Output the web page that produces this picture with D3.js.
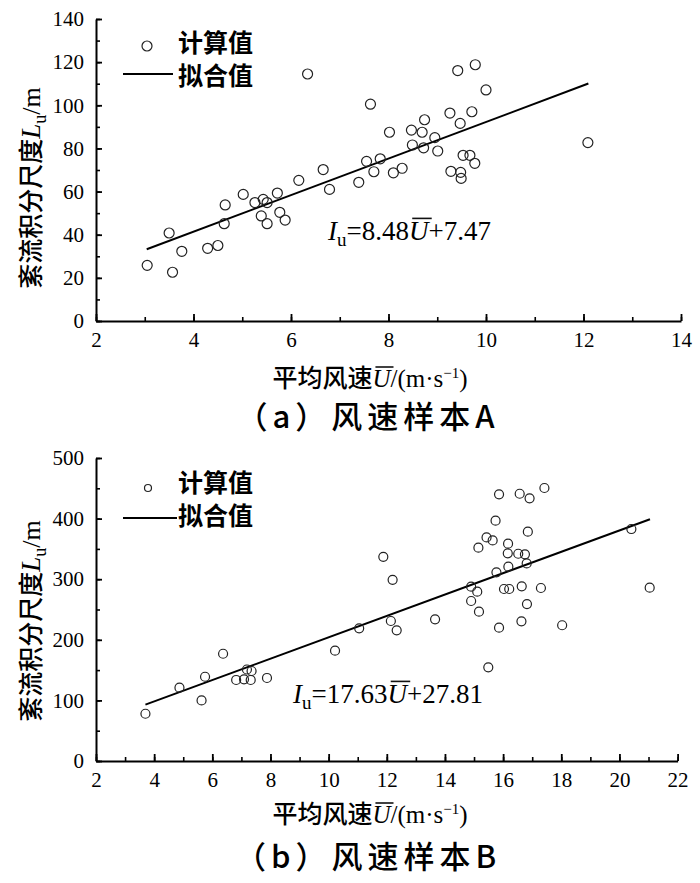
<!DOCTYPE html>
<html><head><meta charset="utf-8">
<script src="https://cdn.jsdelivr.net/npm/d3@7"></script>
<style>html,body{margin:0;padding:0;background:#fff;}svg{display:block;}</style>
</head><body>
<svg id="c" width="700" height="883"></svg>
<script>
// ---------- data ----------
const speedA = [3.05,3.57,3.50,3.76,4.29,4.50,4.63,4.65,5.02,5.26,5.43,5.51,5.39,5.51,5.72,5.77,5.88,6.16,6.34,6.66,6.79,7.39,7.55,7.63,7.70,7.83,8.02,8.10,8.28,8.47,8.49,8.69,8.72,8.74,8.95,9.01,9.26,9.28,9.42,9.47,9.48,9.49,9.53,9.67,9.71,9.77,9.78,10.0,12.09];
const scaleA = [25.8,22.6,40.8,32.3,33.7,35.0,45.1,53.8,58.7,54.9,56.4,54.9,48.7,45.1,59.3,50.4,46.8,65.2,114.5,70.2,61.0,64.3,74.0,100.5,69.2,75.2,87.5,68.7,70.8,88.5,81.6,87.5,80.3,93.3,85.0,78.8,96.4,69.4,116.1,91.6,68.9,66.1,76.8,76.8,97.0,73.1,118.8,107.1,82.7];
const fitA = [8.48, 7.47];       // slope, intercept
const fitRangeA = [3.04, 12.1];

const speedB = [3.70,4.87,5.63,5.75,6.37,6.82,7.09,7.32,7.35,7.19,7.88,10.22,11.05,11.88,12.14,12.20,12.34,13.66,14.90,14.90,15.11,15.15,15.17,15.43,15.49,15.64,15.74,15.77,15.86,15.86,16.03,16.16,16.17,16.18,16.21,16.52,16.57,16.63,16.64,16.75,16.81,16.82,16.85,16.91,17.30,17.42,18.03,20.41,21.04];
const scaleB = [78,121,100,139,177,133.7,134.8,133.7,148.5,151,137,182,219,337,231,299,215.7,233.8,287.6,264,279.4,352,246.4,369,154.6,364,396.5,311.4,440,220,283.8,342.7,358.6,320.6,283.8,342,441,230.5,288.3,341,326,259,378.4,433.5,285.5,450.5,224,382.8,286];
const fitB = [17.63, 27.81];
const fitRangeB = [3.7, 21.05];

const xTicksA = [2,4,6,8,10,12,14];
const yTicksA = [0,20,40,60,80,100,120,140];
const xTicksB = [2,4,6,8,10,12,14,16,18,20,22];
const yTicksB = [0,100,200,300,400,500];

const legendLabels = ["计算值","拟合值"];
const yTitle = "紊流积分尺度";
const xTitle = "平均风速";
const captions = ["（a）风速样本A","（b）风速样本B"];
const eqA = ["=8.48","+7.47"];
const eqB = ["=17.63","+27.81"];

// ---------- drawing ----------
const svg = d3.select("#c");
const SERIF = "'Liberation Serif','Times New Roman',serif";
const CJK = "'Noto Sans CJK SC','Noto Sans CJK JP',sans-serif";

function overlineChar(textSel, idx, fs) {
  const n = textSel.node();
  const s = n.getStartPositionOfChar(idx), e = n.getEndPositionOfChar(idx);
  const y = s.y - fs*0.80;
  d3.select(n.parentNode).append("line")
    .attr("x1", s.x + fs*0.12).attr("x2", e.x + fs*0.12)
    .attr("y1", y).attr("y2", y)
    .attr("stroke", "#111").attr("stroke-width", 1.6);
}

function panel(cfg) {
  const g = svg.append("g");
  const x = d3.scaleLinear().domain(cfg.xDom).range(cfg.xRange);
  const y = d3.scaleLinear().domain(cfg.yDom).range(cfg.yRange);
  const y0 = cfg.yRange[0], x0 = cfg.xRange[0];

  // minor ticks
  g.append("g").attr("transform", `translate(0,${y0})`)
    .call(d3.axisBottom(x).tickValues(d3.range(cfg.xDom[0], cfg.xDom[1]+0.001, cfg.xMinor)).tickSize(-4).tickFormat(""))
    .call(a => a.select(".domain").remove())
    .call(a => a.selectAll("line").attr("stroke","#000").attr("stroke-width",1.6));
  g.append("g").attr("transform", `translate(${x0},0)`)
    .call(d3.axisLeft(y).tickValues(d3.range(cfg.yDom[0], cfg.yDom[1]+0.001, cfg.yMinor)).tickSize(-4).tickFormat(""))
    .call(a => a.select(".domain").remove())
    .call(a => a.selectAll("line").attr("stroke","#000").attr("stroke-width",1.6));
  // major axes
  const xa = g.append("g").attr("transform", `translate(0,${y0})`)
    .call(d3.axisBottom(x).tickValues(cfg.xTicks).tickSize(-7).tickSizeOuter(0).tickPadding(11).tickFormat(d3.format("d")));
  const ya = g.append("g").attr("transform", `translate(${x0},0)`)
    .call(d3.axisLeft(y).tickValues(cfg.yTicks).tickSize(-6).tickSizeOuter(0).tickPadding(12).tickFormat(d3.format("d")));
  [xa, ya].forEach(a => {
    a.select(".domain").attr("stroke","#000").attr("stroke-width",2);
    a.selectAll(".tick line").attr("stroke","#000").attr("stroke-width",1.8);
    a.selectAll("text").attr("font-family", SERIF).attr("font-size", 21).attr("fill","#000");
  });

  // fit line
  const [m, b] = cfg.fit;
  g.append("line")
    .attr("x1", x(cfg.fitRange[0])).attr("y1", y(m*cfg.fitRange[0]+b))
    .attr("x2", x(cfg.fitRange[1])).attr("y2", y(m*cfg.fitRange[1]+b))
    .attr("stroke","#000").attr("stroke-width",2);

  // points
  g.selectAll("circle.pt").data(cfg.xs.map((v,i)=>[v,cfg.ys[i]])).join("circle")
    .attr("class","pt").attr("cx", d=>x(d[0])).attr("cy", d=>y(d[1])).attr("r", cfg.r)
    .attr("fill","none").attr("stroke","#222").attr("stroke-width",1.2);

  // legend
  const L = cfg.legend;
  g.append("circle").attr("cx", L.cx).attr("cy", L.cy).attr("r", L.r)
    .attr("fill","none").attr("stroke","#222").attr("stroke-width",1.2);
  g.append("text").attr("x", L.tx).attr("y", L.t1y).text(legendLabels[0])
    .attr("font-family", CJK).attr("font-weight", 700).attr("font-size", 25).attr("fill","#000");
  g.append("line").attr("x1", L.lx1).attr("x2", L.lx2).attr("y1", L.ly).attr("y2", L.ly)
    .attr("stroke","#000").attr("stroke-width",2);
  g.append("text").attr("x", L.tx).attr("y", L.t2y).text(legendLabels[1])
    .attr("font-family", CJK).attr("font-weight", 700).attr("font-size", 25).attr("fill","#000");

  // equation
  const efs = 27;
  const eq = g.append("text").attr("x", cfg.eq.x).attr("y", cfg.eq.y)
    .attr("font-family", SERIF).attr("font-size", efs).attr("fill","#000");
  eq.append("tspan").attr("font-style","italic").text("I");
  eq.append("tspan").attr("font-size", 19).attr("dy", 6).text("u");
  eq.append("tspan").attr("dy", -6).text(cfg.eq.parts[0]);
  eq.append("tspan").attr("font-style","italic").text("U");
  eq.append("tspan").text(cfg.eq.parts[1]);
  const uIdx = 2 + cfg.eq.parts[0].length;
  overlineChar(eq, uIdx, efs);

  // y title (rotated)
  const yt = g.append("text")
    .attr("transform", `translate(${cfg.yTitle.x},${cfg.yTitle.y}) rotate(-90)`)
    .attr("text-anchor","middle").attr("font-size", 25).attr("fill","#000");
  yt.append("tspan").attr("font-family", CJK).attr("font-weight",500).text(yTitle);
  yt.append("tspan").attr("font-family", SERIF).attr("font-style","italic").attr("font-size", 27).text("L");
  yt.append("tspan").attr("font-family", SERIF).attr("font-size", 18).attr("dy", 6).text("u");
  yt.append("tspan").attr("font-family", SERIF).attr("font-size", 26).attr("dy", -6).text("/m");

  // x title
  const xfs = 25;
  const xt = g.append("text").attr("x", cfg.xTitle.x).attr("y", cfg.xTitle.y)
    .attr("text-anchor","middle").attr("font-size", xfs).attr("fill","#000");
  xt.append("tspan").attr("font-family", CJK).attr("font-weight",500).text(xTitle);
  xt.append("tspan").attr("font-family", SERIF).attr("font-style","italic").text("U");
  xt.append("tspan").attr("font-family", SERIF).text("/(m·s");
  xt.append("tspan").attr("font-family", SERIF).attr("font-size", 15).attr("dy", -9).text("−1");
  xt.append("tspan").attr("font-family", SERIF).attr("dy", 9).text(")");
  overlineChar(xt, xTitle.length, xfs);

  // caption
  g.append("text").attr("x", cfg.cap.x).attr("y", cfg.cap.y).attr("text-anchor","middle")
    .attr("font-family", CJK).attr("font-weight", 500).attr("font-size", 31)
    .attr("letter-spacing", 5).attr("fill","#000")
    .text(cfg.cap.text);
}

panel({
  xDom:[2,14], xRange:[96,681], yDom:[0,140], yRange:[321,19],
  xTicks:xTicksA, yTicks:yTicksA, xMinor:1, yMinor:10,
  xs:speedA, ys:scaleA, r:5, fit:fitA, fitRange:fitRangeA,
  legend:{cx:147,cy:46,r:5,tx:178,t1y:52,t2y:85,lx1:123,lx2:173,ly:74},
  eq:{x:328,y:240,parts:eqA},
  yTitle:{x:40,y:188}, xTitle:{x:370,y:387}, cap:{x:368,y:428,text:captions[0]}
});
panel({
  xDom:[2,22], xRange:[96,677.6], yDom:[0,500], yRange:[761,458],
  xTicks:xTicksB, yTicks:yTicksB, xMinor:1, yMinor:50,
  xs:speedB, ys:scaleB, r:4.5, fit:fitB, fitRange:fitRangeB,
  legend:{cx:148,cy:488,r:3.5,tx:178,t1y:492,t2y:525,lx1:123,lx2:177,ly:518},
  eq:{x:293,y:703,parts:eqB},
  yTitle:{x:40,y:621}, xTitle:{x:370,y:823}, cap:{x:368,y:868,text:captions[1]}
});
</script>
</body></html>
